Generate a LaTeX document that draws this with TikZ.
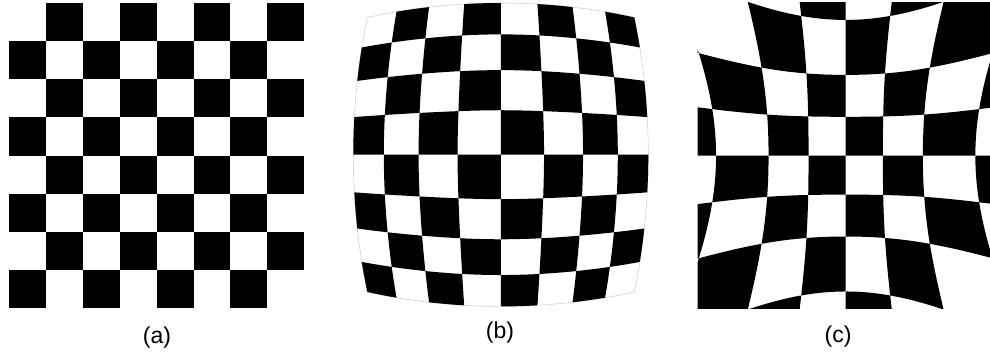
\documentclass[tikz,border=0pt]{standalone}
\usepackage{fontspec}
\setmainfont{Liberation Sans}
\tikzset{
  panellabel/.style={inner sep=0pt, font=\fontsize{11.5}{13}\selectfont},
  rim/.style={draw=black!18, line width=0.3pt}
}
\begin{document}
\begin{tikzpicture}[x=0.5pt, y=-0.5pt,
  declare function={
    bs(\r)=1.23-0.23*\r;
    pg(\r)=1.0134+0.0856*\r^2+0.397*\r^4;
    bx(\u,\v)=500.8+147.5*\u*bs(veclen(\u,\v));
    by(\u,\v)=154.7+151.7*\v*bs(veclen(\u,\v));
    px(\u,\v)=845.7+145.6*\u*pg(veclen(\u,\v));
    py(\u,\v)=155.7+152.5*\v*pg(veclen(\u,\v));
  }]
\useasboundingbox (0,0) rectangle (990,354);

% (a) plain board
\foreach \row in {0,...,7}{
  \foreach \k in {0,...,3}{
    \pgfmathtruncatemacro{\col}{2*\k+1-mod(\row,2)}
    \fill (9+36.9*\col, 2.7+38.2*\row) rectangle ++(36.9,38.2);
  }
}

% (b) barrel
\draw[rim] plot[domain=-1:1, samples=30, variable=\t] ({bx(\t,-1)},{by(\t,-1)})
  -- plot[domain=-1:1, samples=30, variable=\t] ({bx(1,\t)},{by(1,\t)})
  -- plot[domain=1:-1, samples=30, variable=\t] ({bx(\t,1)},{by(\t,1)})
  -- plot[domain=1:-1, samples=30, variable=\t] ({bx(-1,\t)},{by(-1,\t)}) -- cycle;
\foreach \row in {0,...,7}{
  \foreach \k in {0,...,3}{
    \pgfmathtruncatemacro{\col}{2*\k+1-mod(\row,2)}
    \pgfmathsetmacro{\uA}{(\col-4)/4}
    \pgfmathsetmacro{\uB}{(\col-3)/4}
    \pgfmathsetmacro{\vA}{(\row-4)/4}
    \pgfmathsetmacro{\vB}{(\row-3)/4}
    \fill plot[domain=\uA:\uB, samples=8, variable=\t] ({bx(\t,\vA)},{by(\t,\vA)})
      -- plot[domain=\vA:\vB, samples=8, variable=\t] ({bx(\uB,\t)},{by(\uB,\t)})
      -- plot[domain=\uB:\uA, samples=8, variable=\t] ({bx(\t,\vB)},{by(\t,\vB)})
      -- plot[domain=\vB:\vA, samples=8, variable=\t] ({bx(\uA,\t)},{by(\uA,\t)}) -- cycle;
  }
}

% (c) pincushion, cut to its window
\begin{scope}
\clip (697.7,2.7) rectangle (990,308.3);
\foreach \row in {0,...,7}{
  \foreach \k in {0,...,3}{
    \pgfmathtruncatemacro{\col}{2*\k+1-mod(\row,2)}
    \pgfmathsetmacro{\uA}{(\col-4)/4}
    \pgfmathsetmacro{\uB}{(\col-3)/4}
    \pgfmathsetmacro{\vA}{(\row-4)/4}
    \pgfmathsetmacro{\vB}{(\row-3)/4}
    \fill plot[domain=\uA:\uB, samples=12, variable=\t] ({px(\t,\vA)},{py(\t,\vA)})
      -- plot[domain=\vA:\vB, samples=12, variable=\t] ({px(\uB,\t)},{py(\uB,\t)})
      -- plot[domain=\uB:\uA, samples=12, variable=\t] ({px(\t,\vB)},{py(\t,\vB)})
      -- plot[domain=\vB:\vA, samples=12, variable=\t] ({px(\uA,\t)},{py(\uA,\t)}) -- cycle;
  }
}
\end{scope}

\node[panellabel] (capa) at (157,338) {(a)};
\node[panellabel] (capb) at (500,333) {(b)};
\node[panellabel] (capc) at (838,337) {(c)};
\end{tikzpicture}
\end{document}
